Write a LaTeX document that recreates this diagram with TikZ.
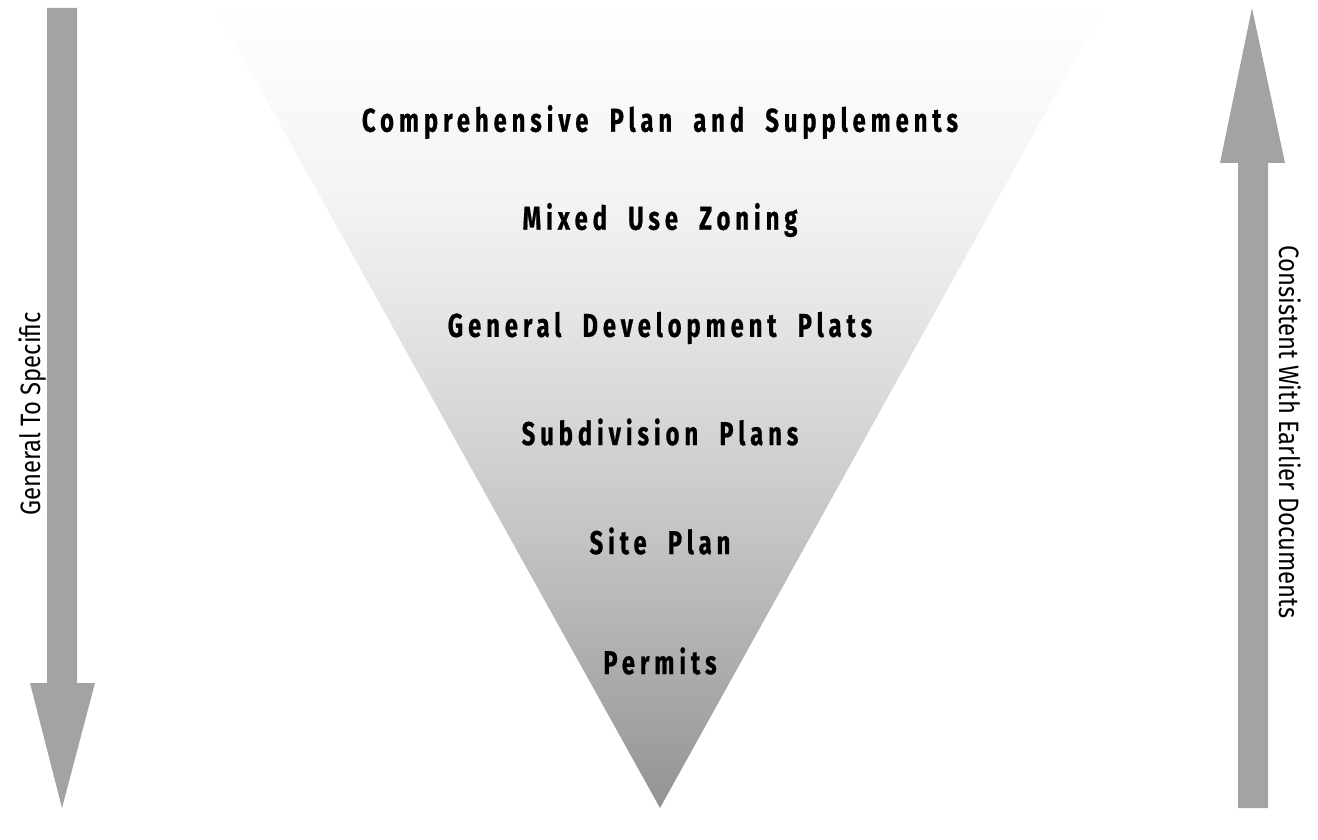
\documentclass[tikz,border=0pt]{standalone}
\usepackage{fontspec}
\setmainfont{Fira Sans}
\newfontfamily\stagefont[LetterSpace=15,FakeStretch=0.72,WordSpace=2,FakeBold=0.6]{Fira Sans}
\newfontfamily\sidefont[FakeStretch=0.85]{Fira Sans}

\definecolor{arrowgray}{HTML}{A3A3A3}
\definecolor{funnelbot}{HTML}{939393}
\definecolor{funnelsite}{HTML}{C3C3C3}
\definecolor{funnelsub}{HTML}{D5D5D5}
\definecolor{funnelgen}{HTML}{E4E4E4}
\definecolor{funnelzone}{HTML}{F3F3F3}
\definecolor{funneltop}{HTML}{FFFFFF}

% light at the top, grey at the tip (path spans 25bp--75bp)
\pgfdeclareverticalshading{funnelshade}{100bp}{color(0bp)=(funnelbot);
  color(25bp)=(funnelbot); color(41.5bp)=(funnelsite); color(48.5bp)=(funnelsub);
  color(55bp)=(funnelgen); color(62.5bp)=(funnelzone); color(75bp)=(funneltop);
  color(100bp)=(funneltop)}

\begin{document}
\begin{tikzpicture}[x=1pt, y=-1pt,
  stage/.style={font=\stagefont\bfseries\fontsize{33}{33}\selectfont, inner sep=0pt},
  side/.style={font=\sidefont\fontsize{28}{28}\selectfont, inner sep=0pt}]

\useasboundingbox (0, 0) rectangle (1318, 840);

% funnel
\shade[shading=funnelshade] (211, 0) -- (1108, 0) -- (660, 808) -- cycle;

% left arrow: general to specific
\fill[arrowgray] (47, 8) -- (77, 8) -- (77, 683) -- (95, 683) -- (62, 808)
  -- (30, 683) -- (47, 683) -- cycle;
\node[side, rotate=90] (gentospec) at (33, 414) {General To Specific};

% right arrow: consistent with earlier documents
\fill[arrowgray] (1238, 808) -- (1268, 808) -- (1268, 163) -- (1285, 163)
  -- (1252, 8) -- (1220, 163) -- (1238, 163) -- cycle;
\node[side, rotate=-90] (consistent) at (1290, 432) {Consistent With Earlier Documents};

% stages
\node[stage] (compplan) at (660, 122) {Comprehensive Plan and Supplements};
\node[stage] (zoning) at (660, 220) {Mixed Use Zoning};
\node[stage] (genplats) at (660, 328) {General Development Plats};
\node[stage] (subdiv) at (660, 432) {Subdivision Plans};
\node[stage] (siteplan) at (660, 541) {Site Plan};
\node[stage] (permits) at (660, 661) {Permits};

\end{tikzpicture}
\end{document}
